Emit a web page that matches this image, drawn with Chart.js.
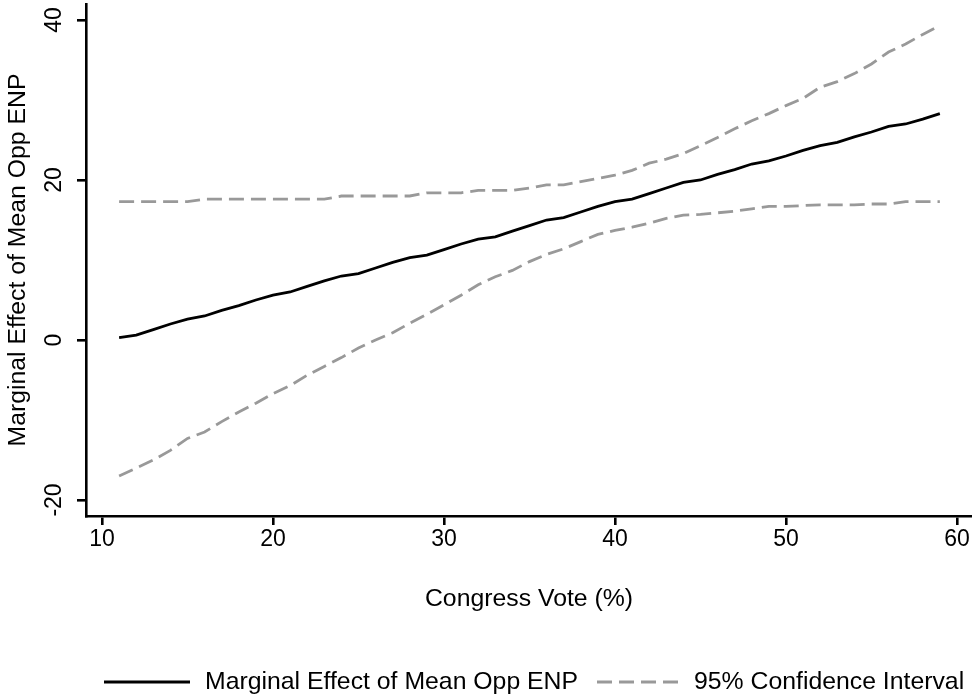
<!DOCTYPE html>
<html>
<head>
<meta charset="utf-8">
<script src="https://cdn.jsdelivr.net/npm/chart.js@4/dist/chart.umd.min.js"></script>
<style>
  html, body { margin: 0; padding: 0; background: #fff; }
  canvas { display: block; }
</style>
</head>
<body>
<canvas id="effectChart" width="972" height="698"></canvas>
<script>
// Congress vote share (%)
const congressVote = [11, 12, 13, 14, 15, 16, 17, 18, 19, 20, 21, 22, 23, 24, 25, 26, 27, 28, 29, 30,
    31, 32, 33, 34, 35, 36, 37, 38, 39, 40, 41, 42, 43, 44, 45, 46, 47, 48, 49, 50,
    51, 52, 53, 54, 55, 56, 57, 58, 59];

const marginalEffect = [0.3, 0.6, 1.3, 2.0, 2.6, 3.0, 3.7, 4.3, 5.0, 5.6, 6.0, 6.7, 7.4, 8.0, 8.3, 9.0, 9.7, 10.3, 10.6, 11.3,
    12.0, 12.6, 12.9, 13.6, 14.3, 15.0, 15.3, 16.0, 16.7, 17.3, 17.6, 18.3, 19.0, 19.7, 20.0, 20.7, 21.3, 22.0, 22.4, 23.0,
    23.7, 24.3, 24.7, 25.4, 26.0, 26.7, 27.0, 27.6, 28.3];

const upperCI = [17.3, 17.3, 17.3, 17.3, 17.3, 17.6, 17.6, 17.6, 17.6, 17.6, 17.6, 17.6, 17.6, 18.0, 18.0, 18.0, 18.0, 18.0, 18.4, 18.4,
    18.4, 18.7, 18.7, 18.7, 19.0, 19.4, 19.4, 19.8, 20.2, 20.6, 21.2, 22.1, 22.6, 23.3, 24.3, 25.3, 26.4, 27.4, 28.3, 29.3,
    30.2, 31.6, 32.3, 33.3, 34.5, 36.0, 37.0, 38.2, 39.3];

const lowerCI = [-17.0, -16.0, -15.0, -13.8, -12.3, -11.5, -10.2, -9.0, -7.9, -6.7, -5.7, -4.4, -3.3, -2.2, -1.0, 0.0, 0.9, 2.1, 3.2, 4.4,
    5.6, 6.9, 7.9, 8.7, 9.8, 10.7, 11.4, 12.3, 13.2, 13.7, 14.1, 14.6, 15.2, 15.6, 15.7, 15.9, 16.1, 16.4, 16.7, 16.7,
    16.8, 16.9, 16.9, 16.9, 17.0, 17.0, 17.3, 17.3, 17.3];

const xTicks = [10, 20, 30, 40, 50, 60];
const yTicks = [-20, 0, 20, 40];

const FONT = "'Liberation Sans', Arial, Helvetica, sans-serif";

function toPoints(ys) {
    return congressVote.map((x, i) => ({x: x, y: ys[i]}));
}

// y tick labels (rotated) and the legend along the bottom
const extras = {
    id: 'extras',
    afterDraw(chart) {
        const ctx = chart.ctx;
        const yScale = chart.scales.y;
        ctx.save();
        ctx.fillStyle = '#000';
        ctx.font = '23px ' + FONT;
        ctx.textAlign = 'center';
        ctx.textBaseline = 'middle';
        yTicks.forEach(v => {
            ctx.save();
            ctx.translate(55, yScale.getPixelForValue(v));
            ctx.rotate(-Math.PI / 2);
            ctx.fillText(String(v), 0, 0);
            ctx.restore();
        });

        // legend
        const ly = 682;
        const items = [
            {ds: chart.data.datasets[0], x0: 104, x1: 190, tx: 205},
            {ds: chart.data.datasets[1], x0: 597, x1: 682, tx: 694}
        ];
        items.forEach(it => {
            ctx.beginPath();
            ctx.strokeStyle = it.ds.borderColor;
            ctx.lineWidth = it.ds.borderWidth;
            ctx.setLineDash(it.ds.borderDash || []);
            ctx.moveTo(it.x0, ly);
            ctx.lineTo(it.x1, ly);
            ctx.stroke();
            ctx.setLineDash([]);
            ctx.font = '24.8px ' + FONT;
            ctx.textAlign = 'left';
            ctx.fillStyle = '#000';
            ctx.fillText(it.ds.label, it.tx, ly);
        });
        ctx.restore();
    }
};

const ctx = document.getElementById('effectChart').getContext('2d');
const chart = new Chart(ctx, {
    type: 'line',
    data: {
        datasets: [{
            label: 'Marginal Effect of Mean Opp ENP',
            data: toPoints(marginalEffect),
            borderColor: '#000000',
            borderWidth: 2.8,
            pointRadius: 0,
            tension: 0,
            fill: false
        }, {
            label: '95% Confidence Interval',
            data: toPoints(upperCI),
            borderColor: '#999999',
            borderWidth: 2.8,
            borderDash: [15, 7],
            pointRadius: 0,
            tension: 0,
            fill: false
        }, {
            label: '95% Confidence Interval (lower)',
            data: toPoints(lowerCI),
            borderColor: '#999999',
            borderWidth: 2.8,
            borderDash: [15, 7],
            pointRadius: 0,
            tension: 0,
            fill: false
        }]
    },
    options: {
        responsive: false,
        animation: false,
        devicePixelRatio: 1,
        layout: {padding: {left: 0, right: 0, top: 4, bottom: 0}},
        plugins: {
            legend: {display: false},
            tooltip: {enabled: false}
        },
        scales: {
            x: {
                type: 'linear',
                min: 9.064,
                max: 60.88,
                afterBuildTicks: scale => { scale.ticks = xTicks.map(v => ({value: v})); },
                afterFit: scale => { scale.height = 182; },
                border: {display: true, color: '#000', width: 2.6},
                grid: {drawOnChartArea: false, drawTicks: true, tickLength: 9, color: '#000', lineWidth: 2.6},
                ticks: {
                    color: '#000',
                    padding: 1,
                    maxRotation: 0,
                    font: {family: FONT, size: 23}
                },
                title: {
                    display: true,
                    text: 'Congress Vote (%)',
                    color: '#000',
                    font: {family: FONT, size: 24.8},
                    padding: {top: 0, bottom: 84}
                }
            },
            y: {
                type: 'linear',
                min: -22,
                max: 42,
                afterBuildTicks: scale => { scale.ticks = yTicks.map(v => ({value: v})); },
                afterFit: scale => { scale.width = 86; },
                border: {display: true, color: '#000', width: 2.6},
                grid: {drawOnChartArea: false, drawTicks: true, tickLength: 9, color: '#000', lineWidth: 2.6},
                ticks: {display: false},
                title: {
                    display: true,
                    text: 'Marginal Effect of Mean Opp ENP',
                    color: '#000',
                    font: {family: FONT, size: 24.8},
                    padding: {top: 3, bottom: 0}
                }
            }
        }
    },
    plugins: [extras]
});
</script>
</body>
</html>
